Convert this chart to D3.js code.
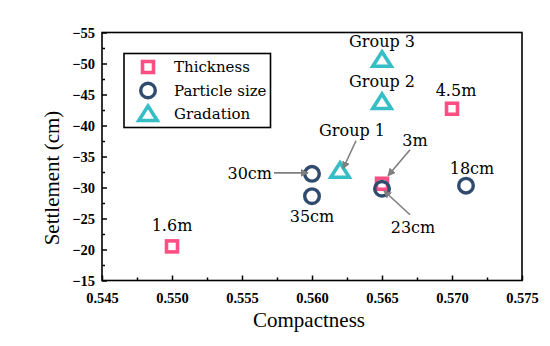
<!DOCTYPE html>
<html>
<head>
<meta charset="utf-8">
<script src="https://cdn.jsdelivr.net/npm/d3@7"></script>
<style>
body { margin: 0; background: #fff; }
svg { display: block; }
</style>
</head>
<body>
<svg id="chart" width="550" height="346"></svg>
<script>
// data
var seriesNames = ["Thickness", "Particle size", "Gradation"];
var thickness = [
    {x: 0.550, y: -20.5, label: "1.6m"},
    {x: 0.565, y: -30.6, label: "3m"},
    {x: 0.570, y: -42.7, label: "4.5m"}
];
var particleSize = [
    {x: 0.560, y: -32.2, label: "30cm"},
    {x: 0.560, y: -28.6, label: "35cm"},
    {x: 0.565, y: -29.8, label: "23cm"},
    {x: 0.571, y: -30.3, label: "18cm"}
];
var gradation = [
    {x: 0.562, y: -32.7, label: "Group 1"},
    {x: 0.565, y: -43.8, label: "Group 2"},
    {x: 0.565, y: -50.6, label: "Group 3"}
];
var xTicks = [0.545, 0.550, 0.555, 0.560, 0.565, 0.570, 0.575];
var yTicks = [-55, -50, -45, -40, -35, -30, -25, -20, -15];

// label placement relative to the point (layout only)
var labelPos = {
    "1.6m":   {dx: 0,   dy: -15, anchor: "middle"},
    "3m":     {dx: 33,  dy: -38, anchor: "middle", arrow: [28, -34, 6, -8]},
    "4.5m":   {dx: 4,   dy: -13, anchor: "middle"},
    "30cm":   {dx: -40, dy: 5,   anchor: "end",    arrow: [-38, -1, -4, -1]},
    "35cm":   {dx: 0,   dy: 26,  anchor: "middle"},
    "23cm":   {dx: 31,  dy: 44,  anchor: "middle", arrow: [28, 26, 2, 2]},
    "18cm":   {dx: 6,   dy: -12, anchor: "middle"},
    "Group 1":{dx: 12,  dy: -35, anchor: "middle", arrow: [16, -30, 3, -2]},
    "Group 2":{dx: 0,   dy: -15, anchor: "middle"},
    "Group 3":{dx: 0,   dy: -13, anchor: "middle"}
};

var colors = {"Thickness": "#fd4f84", "Particle size": "#2f4b6d", "Gradation": "#36bec7"};

var svg = d3.select("#chart");
var mLeft = 102, mRight = 522, mTop = 32.5, mBottom = 280.5;

var xScale = d3.scaleLinear().domain([0.545, 0.575]).range([mLeft, mRight]);
var yScale = d3.scaleLinear().domain([-55, -15]).range([mTop, mBottom]);

var tickFont = "'Liberation Serif', 'Times New Roman', serif";
var labelFont = "'DejaVu Serif', serif";

// arrow marker
svg.append("defs").append("marker")
    .attr("id", "arrow")
    .attr("viewBox", "0 0 10 10")
    .attr("refX", 9).attr("refY", 5)
    .attr("markerWidth", 5).attr("markerHeight", 5)
    .attr("markerUnits", "strokeWidth")
    .attr("orient", "auto")
    .append("path")
    .attr("d", "M0,0 L10,5 L0,10 z")
    .attr("fill", "#7f7f7f");

// minor ticks first
var xMinor = d3.range(0.5475, 0.575, 0.005);
var yMinor = d3.range(-52.5, -15, 5);
svg.append("g")
    .attr("transform", "translate(0," + mBottom + ")")
    .call(d3.axisBottom(xScale).tickValues(xMinor).tickSize(-3).tickFormat(""))
    .call(function(g) { g.select(".domain").remove(); })
    .selectAll("line").attr("stroke-width", 1.5);
svg.append("g")
    .attr("transform", "translate(" + mLeft + ",0)")
    .call(d3.axisLeft(yScale).tickValues(yMinor).tickSize(-3).tickFormat(""))
    .call(function(g) { g.select(".domain").remove(); })
    .selectAll("line").attr("stroke-width", 1.5);

// major axes
var xAxis = svg.append("g")
    .attr("transform", "translate(0," + mBottom + ")")
    .call(d3.axisBottom(xScale).tickValues(xTicks).tickSize(-5).tickPadding(12).tickFormat(d3.format(".3f")));
var yAxis = svg.append("g")
    .attr("transform", "translate(" + mLeft + ",0)")
    .call(d3.axisLeft(yScale).tickValues(yTicks).tickSize(-5).tickPadding(7).tickFormat(d3.format("d")));
[xAxis, yAxis].forEach(function(a) {
    a.select(".domain").remove();
    a.attr("font-size", null).attr("font-family", null);
    a.selectAll("line").attr("stroke-width", 1.5);
    a.selectAll("text")
        .style("font-family", tickFont)
        .style("font-weight", "bold")
        .style("font-size", "14.5px")
        .attr("fill", "#000");
});

// frame
svg.append("rect")
    .attr("x", mLeft).attr("y", mTop)
    .attr("width", mRight - mLeft).attr("height", mBottom - mTop)
    .attr("fill", "none").attr("stroke", "#000").attr("stroke-width", 1.6);

// axis titles
svg.append("text")
    .attr("x", 309).attr("y", 326.5)
    .attr("text-anchor", "middle")
    .attr("font-family", tickFont).attr("font-size", 21)
    .text("Compactness");
svg.append("text")
    .attr("transform", "translate(59,178) rotate(-90)")
    .attr("text-anchor", "middle")
    .attr("font-family", tickFont).attr("font-size", 21)
    .text("Settlement (cm)");

// marker drawing
function drawMarker(sel, name, cx, cy) {
    var c = colors[name];
    if (name == "Thickness") {
        sel.append("rect")
            .attr("x", cx - 5.5).attr("y", cy - 5.5)
            .attr("width", 11).attr("height", 11)
            .attr("fill", "none").attr("stroke", c).attr("stroke-width", 3.6);
    } else if (name == "Particle size") {
        sel.append("circle")
            .attr("cx", cx).attr("cy", cy).attr("r", 7.3)
            .attr("fill", "none").attr("stroke", c).attr("stroke-width", 3.4);
    } else {
        sel.append("path")
            .attr("d", "M" + cx + "," + (cy - 8) + "L" + (cx + 9.2) + "," + (cy + 6.5) + "L" + (cx - 9.2) + "," + (cy + 6.5) + "Z")
            .attr("fill", "none").attr("stroke", c).attr("stroke-width", 3.6)
            .attr("stroke-linejoin", "miter");
    }
}

var plot = svg.append("g");
var allSeries = [thickness, particleSize, gradation];
allSeries.forEach(function(s, i) {
    s.forEach(function(d) {
        drawMarker(plot, seriesNames[i], xScale(d.x), yScale(d.y));
    });
});

// labels and arrows
var ann = svg.append("g");
allSeries.forEach(function(s) {
    s.forEach(function(d) {
        var px = xScale(d.x), py = yScale(d.y), p = labelPos[d.label];
        ann.append("text")
            .attr("x", px + p.dx).attr("y", py + p.dy)
            .attr("text-anchor", p.anchor)
            .attr("font-family", labelFont).attr("font-size", 16)
            .attr("fill", "#000")
            .text(d.label);
        if (p.arrow) {
            ann.append("line")
                .attr("x1", px + p.arrow[0]).attr("y1", py + p.arrow[1])
                .attr("x2", px + p.arrow[2]).attr("y2", py + p.arrow[3])
                .attr("stroke", "#7f7f7f").attr("stroke-width", 1.6)
                .attr("marker-end", "url(#arrow)");
        }
    });
});

// legend
var legend = svg.append("g");
legend.append("rect")
    .attr("x", 124).attr("y", 53.5)
    .attr("width", 146.5).attr("height", 74)
    .attr("fill", "#fff").attr("stroke", "#000").attr("stroke-width", 1.6);
seriesNames.forEach(function(name, i) {
    var ly = 67 + i * 23.5;
    drawMarker(legend, name, 148, ly);
    legend.append("text")
        .attr("x", 174).attr("y", ly)
        .attr("dy", "0.36em")
        .attr("font-family", labelFont).attr("font-size", 15)
        .text(name);
});
</script>
</body>
</html>
